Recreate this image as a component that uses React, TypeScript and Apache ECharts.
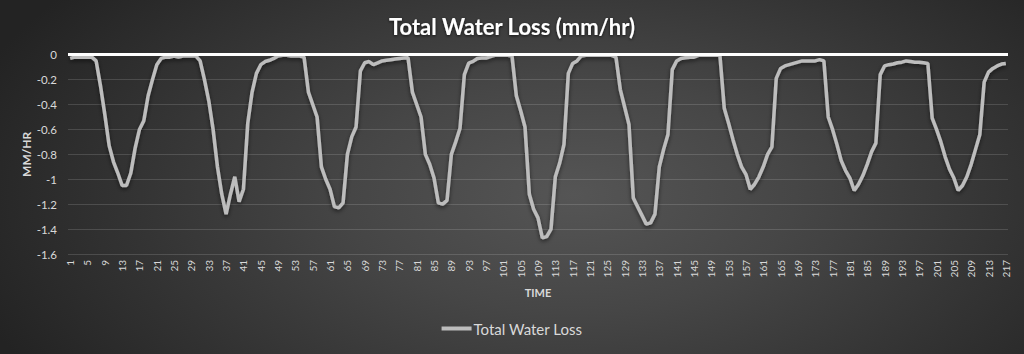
import React, { useEffect, useRef } from "react";
import * as echarts from "echarts";

const chartTitle = "Total Water Loss (mm/hr)";
const seriesName = "Total Water Loss";
const xAxisName = "TIME";
const yAxisName = "MM/HR";

// time steps 1..217
const timeSteps: string[] = Array.from({ length: 217 }, (_, i) => String(i + 1));

const yMin = -1.6;
const yMax = 0;
const yStep = 0.2;

const waterLoss: number[] = [
  // 1-30
  -0.03, -0.02, -0.02, -0.02, -0.02, -0.02, -0.05, -0.25, -0.48, -0.73,
  -0.86, -0.95, -1.05, -1.05, -0.95, -0.75, -0.6, -0.53, -0.33, -0.2,
  -0.08, -0.03, -0.02, -0.02, -0.01, -0.02, -0.01, -0.01, -0.01, -0.01,
  // 31-60
  -0.05, -0.2, -0.37, -0.6, -0.9, -1.12, -1.28, -1.12, -0.98, -1.18,
  -1.08, -0.55, -0.3, -0.15, -0.08, -0.055, -0.045, -0.03, -0.01, -0.005,
  -0.005, -0.01, -0.01, -0.01, -0.02, -0.3, -0.4, -0.5, -0.9, -1.0,
  // 61-90
  -1.08, -1.22, -1.23, -1.19, -0.8, -0.66, -0.58, -0.13, -0.065, -0.055,
  -0.08, -0.065, -0.05, -0.045, -0.04, -0.035, -0.03, -0.027, -0.025, -0.3,
  -0.4, -0.5, -0.8, -0.88, -0.99, -1.19, -1.2, -1.17, -0.8, -0.7,
  // 91-120
  -0.59, -0.16, -0.067, -0.054, -0.03, -0.027, -0.027, -0.015, -0.005, -0.005,
  -0.005, -0.005, -0.01, -0.33, -0.45, -0.58, -1.12, -1.24, -1.31, -1.47,
  -1.46, -1.4, -0.98, -0.87, -0.72, -0.15, -0.07, -0.05, -0.01, -0.005,
  // 121-150
  -0.005, -0.005, -0.005, -0.005, -0.005, -0.005, -0.02, -0.28, -0.42, -0.56,
  -1.15, -1.22, -1.29, -1.36, -1.35, -1.28, -0.9, -0.76, -0.64, -0.12,
  -0.05, -0.03, -0.025, -0.02, -0.02, -0.005, -0.005, -0.005, -0.005, -0.005,
  // 151-180
  -0.005, -0.43, -0.55, -0.68, -0.8, -0.9, -0.96, -1.08, -1.04, -0.98,
  -0.9, -0.8, -0.74, -0.19, -0.11, -0.09, -0.08, -0.07, -0.06, -0.05,
  -0.05, -0.05, -0.05, -0.04, -0.05, -0.5, -0.6, -0.72, -0.85, -0.93,
  // 181-210
  -0.99, -1.09, -1.04, -0.97, -0.88, -0.78, -0.71, -0.16, -0.09, -0.08,
  -0.075, -0.065, -0.06, -0.05, -0.055, -0.06, -0.06, -0.065, -0.07, -0.51,
  -0.6, -0.7, -0.82, -0.92, -0.99, -1.09, -1.05, -0.98, -0.88, -0.76,
  // 211-217
  -0.64, -0.22, -0.14, -0.11, -0.09, -0.075, -0.07,
];

const FONT = "Lato, 'Open Sans', sans-serif";

export default function App() {
  const ref = useRef<HTMLDivElement>(null);

  useEffect(() => {
    document.body.style.margin = "0";
    const chart = echarts.init(ref.current!, null, { renderer: "svg" });
    chart.setOption({
      animation: false,
      backgroundColor: "transparent",
      title: {
        text: chartTitle,
        left: "center",
        top: 10,
        textStyle: {
          color: "#ffffff",
          fontFamily: FONT,
          fontWeight: "bold",
          fontSize: 22,
          textShadowColor: "rgba(0,0,0,0.7)",
          textShadowBlur: 3,
          textShadowOffsetY: 1,
        },
      },
      legend: {
        data: [seriesName],
        bottom: 13,
        left: "center",
        icon: "rect",
        itemWidth: 30,
        itemHeight: 4,
        itemGap: 0,
        textStyle: { color: "#d9d9d9", fontFamily: FONT, fontSize: 15, padding: [0, 0, 0, -3] },
      },
      grid: { left: 68, right: 16, top: 54.7, bottom: 100, containLabel: false },
      xAxis: {
        type: "category",
        data: timeSteps,
        boundaryGap: true,
        name: xAxisName,
        nameLocation: "middle",
        nameGap: 33,
        nameMoveOverlap: false,
        nameTextStyle: { color: "#d9d9d9", fontFamily: FONT, fontWeight: "bold", fontSize: 11 },
        axisLine: { show: false },
        axisTick: { show: false },
        axisLabel: {
          interval: 3,
          rotate: 90,
          color: "#d9d9d9",
          fontFamily: FONT,
          fontSize: 10,
          margin: 6,
        },
        splitLine: { show: false },
      },
      yAxis: {
        type: "value",
        min: yMin,
        max: yMax,
        interval: yStep,
        name: yAxisName,
        nameLocation: "middle",
        nameRotate: 90,
        nameGap: 36,
        nameMoveOverlap: false,
        nameTextStyle: { color: "#d9d9d9", fontFamily: FONT, fontWeight: "bold", fontSize: 12 },
        axisLine: { show: false },
        axisTick: { show: false },
        axisLabel: { color: "#d9d9d9", fontFamily: FONT, fontSize: 11.5, margin: 11 },
        splitLine: { lineStyle: { color: "rgba(255,255,255,0.14)", width: 1 } },
      },
      series: [
        {
          name: seriesName,
          type: "line",
          data: waterLoss,
          showSymbol: false,
          symbol: "none",
          lineStyle: {
            color: "#bdbdbd",
            width: 3.5,
            shadowColor: "rgba(0,0,0,0.55)",
            shadowBlur: 4,
            shadowOffsetY: 2,
          },
          itemStyle: { color: "#bdbdbd" },
          markLine: {
            silent: true,
            symbol: "none",
            label: { show: false },
            lineStyle: { color: "#ffffff", width: 3, type: "solid" },
            data: [{ yAxis: 0 }],
          },
          z: 3,
        },
      ],
    });
    return () => chart.dispose();
  }, []);

  return (
    <div
      ref={ref}
      style={{
        width: 1024,
        height: 354,
        background:
          "radial-gradient(ellipse 62% 95% at 56% 55%, #555555 0%, #464646 35%, #333333 70%, #232323 100%)",
      }}
    />
  );
}
